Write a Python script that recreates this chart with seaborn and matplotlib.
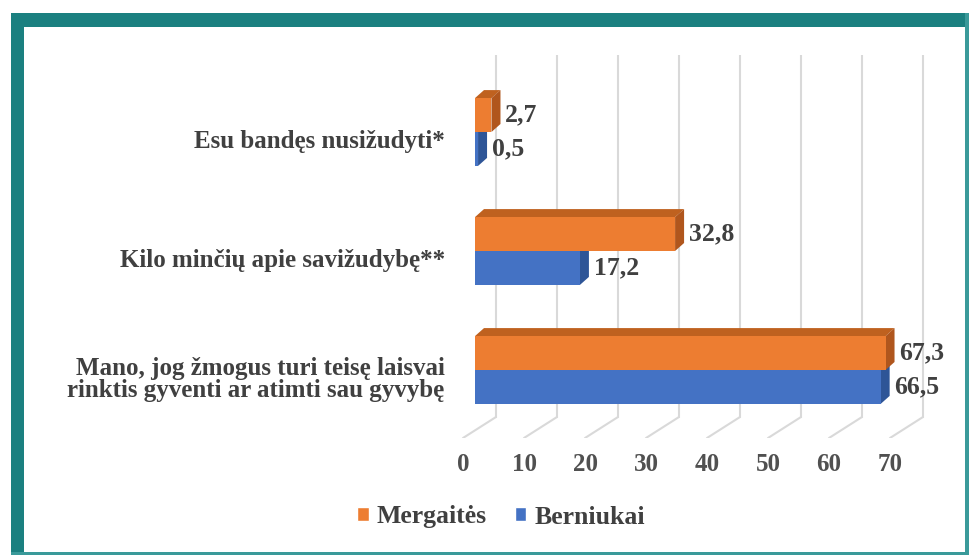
import numpy as np
import pandas as pd
import matplotlib
matplotlib.use("Agg")
import matplotlib.pyplot as plt
import seaborn as sns
from matplotlib.patches import Polygon, Rectangle
from matplotlib.lines import Line2D
from matplotlib.transforms import ScaledTranslation, blended_transform_factory

# ---------------- data ----------------
categories = [
    "Esu bandęs nusižudyti*",
    "Kilo minčių apie savižudybę**",
    "Mano, jog žmogus turi teisę laisvai\nrinktis gyventi ar atimti sau gyvybę",
]
series_names = ["Mergaitės", "Berniukai"]
mergaites = [2.7, 32.8, 67.3]
berniukai = [0.5, 17.2, 66.5]
x_ticks = [0, 10, 20, 30, 40, 50, 60, 70]

df = pd.DataFrame({
    "Kategorija": categories * 2,
    "Lytis": [series_names[0]] * 3 + [series_names[1]] * 3,
    "Procentai": mergaites + berniukai,
})

front_colors = {"Mergaitės": "#ED7D31", "Berniukai": "#4472C4"}
side_colors = {"Mergaitės": "#B0561D", "Berniukai": "#2E5597"}
top_colors = {"Mergaitės": "#BF611F", "Berniukai": "#3560AD"}

TXT = "#404040"
FONT = "Liberation Serif"

sns.set_theme(style="white")
plt.rcParams["font.family"] = [FONT, "DejaVu Serif"]
plt.rcParams["font.weight"] = "bold"

DPI = 100
W, H = 969, 555
fig = plt.figure(figsize=(W / DPI, H / DPI), dpi=DPI)
fig.patch.set_facecolor("white")

# axes geometry in pixels
ax_left, ax_right, ax_top, ax_bot = 460, 935, 55, 438
ax = fig.add_axes([ax_left / W, 1 - ax_bot / H, (ax_right - ax_left) / W, (ax_bot - ax_top) / H])

sns.barplot(data=df, x="Procentai", y="Kategorija", hue="Lytis",
            hue_order=series_names, palette=front_colors, orient="h",
            width=0.57, ax=ax, saturation=1, legend=True, zorder=2)

# scale: 0 at pixel 475, 6.1 px per unit; category 0 at 132px, category 2 at 370px
px_per_x = 6.1
x0_px = 475
ax.set_xlim((ax_left - x0_px) / px_per_x, (ax_right - x0_px) / px_per_x)
px_per_y = (370 - 132) / 2
ax.set_ylim(2 + (ax_bot - 370) / px_per_y, 0 - (132 - ax_top) / px_per_y)

for s in ax.spines.values():
    s.set_visible(False)
ax.set_xlabel("")
ax.set_ylabel("")
ax.set_facecolor("white")

# ------------- 3D effect -------------
depth_dx, depth_dy = 9, 8  # pixels
ddx = depth_dx / px_per_x
ddy = -depth_dy / px_per_y  # inverted y axis

n_cat = len(categories)
for i, patch in enumerate(ax.patches[:2 * n_cat]):
    name = series_names[i // n_cat]
    x = patch.get_x()
    y = patch.get_y()
    w = patch.get_width()
    h = patch.get_height()
    ytop, ybot = min(y, y + h), max(y, y + h)
    x1 = x + w
    base_z = 1.5 if name == "Berniukai" else 1.6
    patch.set_zorder(2 if name == "Berniukai" else 3)
    patch.set_edgecolor("none")
    top = Polygon([(x, ytop), (x + ddx, ytop + ddy), (x1 + ddx, ytop + ddy), (x1, ytop)],
                  closed=True, facecolor=top_colors[name], edgecolor="none", zorder=base_z)
    side = Polygon([(x1, ytop), (x1 + ddx, ytop + ddy), (x1 + ddx, ybot + ddy), (x1, ybot)],
                   closed=True, facecolor=side_colors[name], edgecolor="none", zorder=base_z)
    ax.add_patch(top)
    ax.add_patch(side)

# value labels
for j, cont in enumerate(ax.containers):
    vals = mergaites if j == 0 else berniukai
    ax.bar_label(cont, labels=[f"{v:.1f}".replace(".", ",") for v in vals],
                 padding=10, fontsize=18.5, fontweight="bold", color=TXT,
                 family=FONT, zorder=5)

# ------------- gridlines (back wall + floor) -------------
back_dx = 21 / px_per_x
front_dx = -12 / px_per_x
wall_bottom = (ax_bot - 417) / (ax_bot - ax_top)
blend = blended_transform_factory(ax.transData, ax.transAxes)
grid_c = "#D9D9D9"
for v in x_ticks:
    ax.add_line(Line2D([v + back_dx, v + back_dx], [wall_bottom, 1.0], transform=blend,
                       color=grid_c, lw=1.5, zorder=0.5))
    ax.add_line(Line2D([v + back_dx, v + front_dx], [wall_bottom, 0.0], transform=blend,
                       color=grid_c, lw=1.5, zorder=0.5))

# ------------- ticks -------------
ax.set_xticks(x_ticks)
ax.set_xticklabels([str(t) for t in x_ticks], fontsize=18, fontweight="bold",
                   color="#505050", family=FONT)
ax.tick_params(axis="x", length=0, pad=11)
for lab in ax.get_xticklabels():
    lab.set_transform(lab.get_transform() + ScaledTranslation(-12 / DPI, 0, fig.dpi_scale_trans))

ax.tick_params(axis="y", length=0, pad=11)
for lab in ax.get_yticklabels():
    lab.set_fontsize(18)
    lab.set_fontweight("bold")
    lab.set_color(TXT)
    lab.set_family(FONT)
    lab.set_linespacing(0.98)
    lab.set_transform(lab.get_transform() + ScaledTranslation(0, -7 / DPI, fig.dpi_scale_trans))

# ------------- legend -------------
handles, labels = ax.get_legend_handles_labels()
if ax.get_legend() is not None:
    ax.get_legend().remove()
fig.legend(handles, labels, loc="center", bbox_to_anchor=(501 / W, 1 - 517 / H),
           ncol=2, frameon=False, handlelength=0.45, handleheight=0.45,
           handletextpad=0.3, columnspacing=1.1,
           prop={"family": FONT, "weight": "bold", "size": 18.5}, labelcolor=TXT)

# ------------- teal frame -------------
teal = "#1B8080"
def fig_rect(x, y, w, h, color):
    fig.patches.append(Rectangle((x / W, 1 - (y + h) / H), w / W, h / H,
                                 transform=fig.transFigure, facecolor=color,
                                 edgecolor="none", zorder=10))
fig_rect(11, 13, W - 11, 14, teal)       # top bar
fig_rect(11, 13, 13, H - 13, teal)       # left bar
fig_rect(965, 13, 4, H - 13, "#3A9A9A")  # right thin line
fig_rect(11, 552, W - 11, 3, "#3A9A9A")  # bottom thin line

fig.savefig("out.png", dpi=DPI, facecolor="white")
